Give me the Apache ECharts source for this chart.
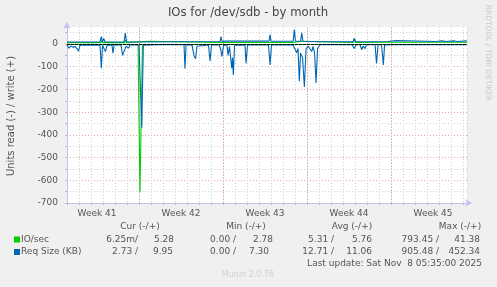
<!DOCTYPE html>
<html><head><meta charset="utf-8">
<script src="https://cdn.jsdelivr.net/npm/echarts@6/dist/echarts.min.js"></script>
<style>html,body{margin:0;padding:0;background:#f0f0f0}#c{width:497px;height:287px}</style>
</head><body><div id="c"></div>
<script>
// x = days from left edge of the graph
const weekLabels = ['Week 41','Week 42','Week 43','Week 44','Week 45'];
const weekLabelDays = [2.5, 9.5, 16.5, 23.5, 30.5];
const weekStartDays = [6, 13, 20, 27];

// IO/sec read (plotted negative) and write (positive)
const ioRead = [[0,-2],[5.92,-2],[6.08,-651],[6.29,-2],[33.33,-2]];
const ioWrite = [[0,6],[2.8,6],[2.86,15],[2.96,6],[4.8,6],[4.86,18],[4.96,6],[5.0,12],[6.9,12],[7.0,7],[12.75,7],[12.83,15],[12.92,7],[17.1,7],[17.17,13],[17.25,7],[18.85,7],[18.94,12],[19.6,12],[19.7,7],[23.85,7],[23.94,25],[24.04,7],[26.7,8],[33.33,8]];

// Req Size (KB) read (negative) and write (positive)
const reqRead = [[0,-5],[0.17,-18],[0.33,-8],[0.5,-15],[0.67,-10],[0.83,-20],[0.96,-32],[1.08,-5],[2.75,-4],[2.86,-107],[2.96,-5],[3.08,-20],[3.21,-33],[3.33,-5],[3.75,-4],[3.83,-40],[3.92,-4],[4.5,-4],[4.63,-50],[4.75,-55],[4.92,-10],[5.13,-18],[5.25,-4],[6.0,-4],[6.23,-369],[6.36,-5],[7.5,-3],[7.58,-6],[7.67,-3],[9.75,-3],[9.83,-109],[9.92,-3],[10.42,-5],[10.58,-50],[10.71,-65],[10.83,-10],[10.92,-4],[11.79,-4],[11.92,-75],[12.04,-4],[12.67,-4],[12.79,-20],[12.92,-55],[13.04,-5],[13.33,-5],[13.42,-50],[13.54,-10],[13.73,-107],[13.79,-60],[13.86,-136],[13.96,-5],[14.83,-4],[14.92,-85],[15.04,-4],[16.79,-4],[16.92,-92],[17.04,-4],[17.75,-4],[17.83,-11],[17.92,-4],[18.83,-4],[19.14,-38],[19.25,-20],[19.36,-164],[19.46,-40],[19.63,-60],[19.78,-189],[19.92,-20],[20.11,-10],[20.25,-5],[20.39,-33],[20.5,-10],[20.63,-40],[20.75,-172],[20.88,-20],[20.96,-16],[21.08,-3],[23.75,-3],[23.94,-20],[24.08,-3],[24.42,-3],[24.56,-25],[24.67,-8],[24.83,-20],[24.96,-3],[25.67,-3],[25.79,-85],[25.92,-3],[26.21,-3],[26.36,-92],[26.46,-5],[26.58,-10],[26.75,-3],[33.33,-3]];
const reqWrite = [[0,9],[2.75,9],[2.86,33],[2.96,9],[3.06,25],[3.17,9],[4.75,9],[4.86,48],[4.96,9],[5.9,9],[6.0,11],[12.75,11],[12.83,33],[12.92,11],[13.2,13],[16.83,13],[16.92,42],[17.0,12],[18.85,12],[18.94,64],[19.04,12],[19.46,12],[19.56,49],[19.66,12],[21,10],[23.85,10],[23.94,25],[24.04,10],[26.75,11],[26.8,15],[27.4,15],[27.5,11],[30.8,11],[30.85,14],[31.2,14],[31.25,11],[31.6,11],[31.65,14],[32.2,14],[32.25,11],[32.5,11],[32.55,14],[33.33,14]];

// legend table
const colHeaders = ['Cur (-/+)','Min (-/+)','Avg (-/+)','Max (-/+)'];
const seriesNames = ['IO/sec','Req Size (KB)'];
const ioStats = ['6.25m/','5.28','0.00 /','2.78','5.31 /','5.76','793.45 /','41.38'];
const reqStats = ['2.73 /','9.95','0.00 /','7.30','12.71 /','11.06','905.48 /','452.34'];
const lastUpdate = 'Last update: Sat Nov  8 05:35:00 2025';

const GREEN = '#00cc00', BLUE = '#0066b3';
const FONT = 'DejaVu Sans';
const TXT = '#555555';
const GREY = '#d0d0d0', RED = '#eba0a0', AX = '#c4c4f0';

const chart = echarts.init(document.getElementById('c'), null, {renderer:'canvas'});

const statEnds = [[138,174],[236,273],[334,372],[439,480]];
const statEnds2 = [[138,173],[236,269],[334,372],[439,480]];
const headerCenters = [140, 246, 352, 460];

const graphic = [];
graphic.push({type:'text', x:248, y:13, style:{text:'IOs for /dev/sdb - by month', font:'11.7px "'+FONT+'"', fill:'#444', align:'center', verticalAlign:'middle'}});
graphic.push({type:'text', x:11, y:116, rotation:Math.PI/2, style:{text:'Units read (-) / write (+)', font:'10px "'+FONT+'"', fill:TXT, align:'center', verticalAlign:'middle'}});
graphic.push({type:'text', x:488, y:53, rotation:-Math.PI/2, style:{text:'RRDTOOL / TOBI OETIKER', font:'7.5px "'+FONT+'"', fill:'#c8c8c8', align:'center', verticalAlign:'middle'}});
colHeaders.forEach((h,i)=>graphic.push({type:'text', x:headerCenters[i], y:227, style:{text:h, font:'9px "'+FONT+'"', fill:TXT, align:'center', verticalAlign:'middle'}}));
[[GREEN, ioStats, 239.5, statEnds],[BLUE, reqStats, 252, statEnds2]].forEach((row,r)=>{
  graphic.push({type:'rect', shape:{x:14, y:row[2]-3, width:6, height:6}, style:{fill:row[0]}});
  graphic.push({type:'text', x:21, y:row[2], style:{text:seriesNames[r], font:'9px "'+FONT+'"', fill:TXT, align:'left', verticalAlign:'middle'}});
  row[1].forEach((s,k)=>{
    const end = row[3][Math.floor(k/2)][k%2];
    graphic.push({type:'text', x:end, y:row[2], style:{text:s, font:'9px "'+FONT+'"', fill:TXT, align:'right', verticalAlign:'middle'}});
  });
});
graphic.push({type:'text', x:482, y:263.5, style:{text:lastUpdate, font:'9px "'+FONT+'"', fill:TXT, align:'right', verticalAlign:'middle'}});
graphic.push({type:'text', x:248, y:275, style:{text:'Munin 2.0.76', font:'8px "'+FONT+'"', fill:'#d0d0d0', align:'center', verticalAlign:'middle'}});

const line = (name, data, color, z) => ({
  name, type:'line', data, showSymbol:false, symbol:'none', z,
  lineStyle:{color, width:1.1}, itemStyle:{color}, animation:false
});

chart.setOption({
  backgroundColor:'#f0f0f0',
  animation:false,
  grid:{left:67, top:27, width:400, height:176, show:true, backgroundColor:'#ffffff', borderWidth:0},
  xAxis:{
    type:'value', min:0, max:33.33, interval:1,
    axisLine:{show:true, onZero:false, lineStyle:{color:AX, width:1}, symbol:['none','arrow'], symbolSize:[6,7], symbolOffset:[0,5]},
    axisTick:{show:true, length:2, lineStyle:{color:'#bbbbbb'}},
    axisLabel:{customValues:weekLabelDays, formatter:(v)=>{const i=weekLabelDays.indexOf(v);return i>=0?weekLabels[i]:'';}, color:TXT, fontFamily:FONT, fontSize:9, margin:6},
    splitLine:{show:true, lineStyle:{color:GREY, type:[1,2], width:1}}
  },
  yAxis:{
    type:'value', min:-700, max:75, interval:50,
    axisLine:{show:true, onZero:false, lineStyle:{color:AX, width:1}, symbol:['none','arrow'], symbolSize:[6,7], symbolOffset:[0,5]},
    axisTick:{show:true, length:2, lineStyle:{color:'#bbbbbb'}},
    axisLabel:{formatter:(v)=> (v%100===0 ? String(v) : ''), color:TXT, fontFamily:FONT, fontSize:9, margin:9},
    splitLine:{show:true, showMaxLine:false, lineStyle:{color:[RED,GREY], type:[1,2], width:1}}
  },
  series:[
    Object.assign(line('IO read', ioRead, GREEN, 2), {
      markLine:{silent:true, symbol:'none', label:{show:false}, z:1, lineStyle:{color:RED, width:1, type:[1,2]}, data:weekStartDays.map(d=>({xAxis:d}))}
    }),
    line('IO write', ioWrite, GREEN, 2),
    line('Req read', reqRead, BLUE, 3),
    Object.assign(line('Req write', reqWrite, BLUE, 3), {
      markLine:{silent:true, symbol:'none', label:{show:false}, lineStyle:{color:'#000', width:1.2, type:[3,1]}, data:[{yAxis:0}]}
    })
  ],
  graphic
});
</script></body></html>
